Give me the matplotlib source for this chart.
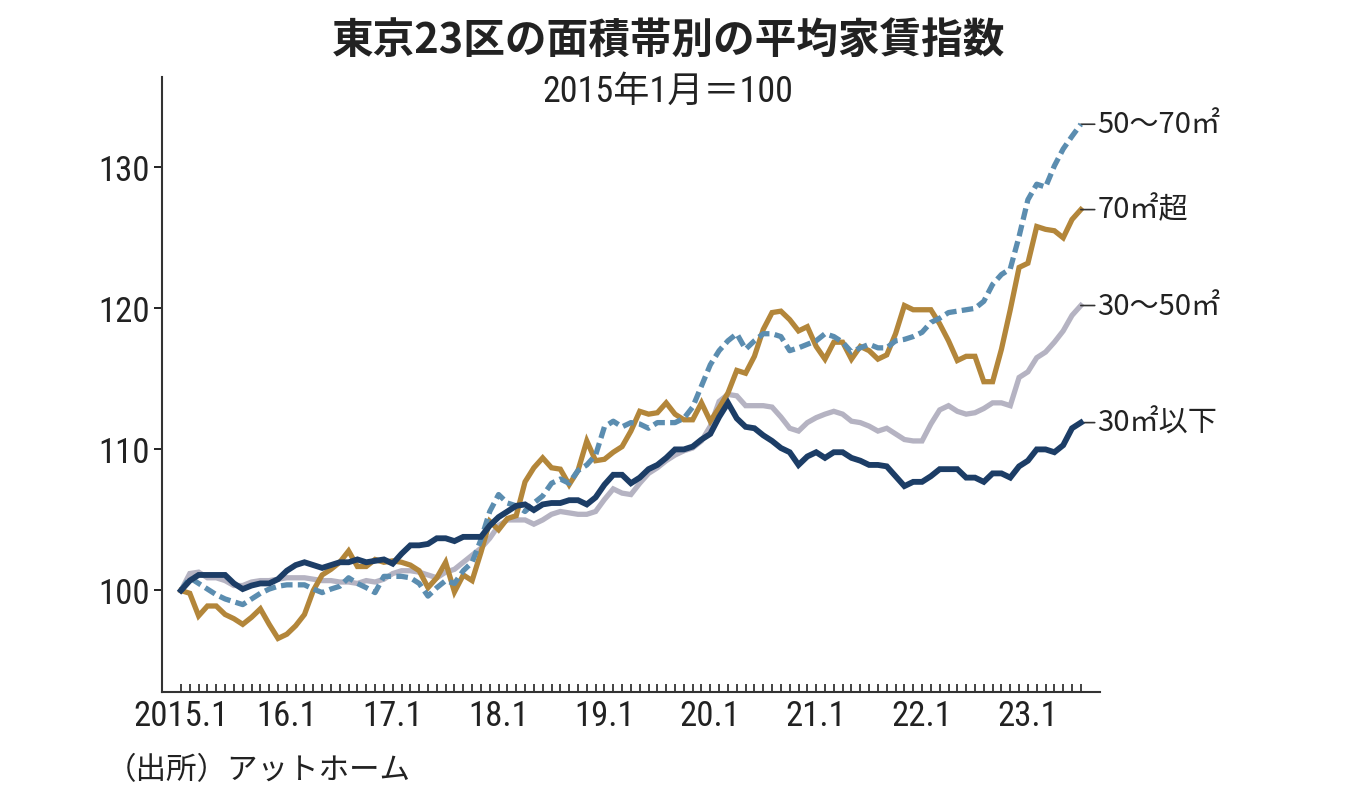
import numpy as np
import matplotlib
matplotlib.use('Agg')
import matplotlib.pyplot as plt
from matplotlib import font_manager

installed = {f.name for f in font_manager.fontManager.ttflist}
narrow = 'Noto Sans CJK JP'
for cand in ['Roboto Condensed', 'Barlow Condensed', 'IBM Plex Sans Condensed',
             'Fira Sans Condensed', 'Liberation Sans Narrow', 'PT Sans Narrow',
             'Archivo Narrow']:
    if cand in installed:
        narrow = cand
        break

plt.rcParams['font.family'] = [narrow, 'Noto Sans CJK JP', 'DejaVu Sans']
JP = ['Noto Sans CJK JP', 'DejaVu Sans']

# monthly index, 2015.1 = 100
under30 = [100.0, 100.7, 101.1, 101.1, 101.1, 101.1, 100.5, 100.1, 100.35, 100.5,
           100.5, 100.8, 101.4, 101.8, 102.0, 101.8, 101.6, 101.8, 102.0, 102.0,
           102.2, 102.0, 102.1, 102.2, 101.9, 102.6, 103.2, 103.2, 103.3, 103.7,
           103.7, 103.5, 103.8, 103.8, 103.8, 104.6, 105.2, 105.6, 106.0, 106.1,
           105.7, 106.1, 106.2, 106.2, 106.4, 106.4, 106.1, 106.6, 107.5, 108.2,
           108.2, 107.6, 108.0, 108.6, 108.9, 109.4, 110.0, 110.0, 110.2, 110.7,
           111.1, 112.3, 113.3, 112.2, 111.6, 111.5, 111.0, 110.6, 110.1, 109.8,
           108.9, 109.5, 109.8, 109.4, 109.8, 109.8, 109.4, 109.2, 108.9, 108.9,
           108.8, 108.1, 107.4, 107.7, 107.7, 108.1, 108.6, 108.6, 108.6, 108.0,
           108.0, 107.7, 108.3, 108.3, 108.0, 108.8, 109.2, 110.0, 110.0, 109.8,
           110.3, 111.5, 111.9]
s30_50 = [100.0, 101.2, 101.3, 100.9, 100.9, 100.7, 100.35, 100.35, 100.6, 100.7,
          100.7, 100.8, 100.9, 100.9, 100.9, 100.8, 100.7, 100.7, 100.6, 100.6,
          100.5, 100.7, 100.6, 100.8, 101.2, 101.4, 101.4, 101.3, 101.1, 100.9,
          101.3, 101.5, 102.0, 102.5, 103.0, 103.7, 104.6, 105.0, 105.0, 105.0,
          104.7, 105.0, 105.4, 105.6, 105.5, 105.4, 105.4, 105.6, 106.45, 107.2,
          106.9, 106.8, 107.6, 108.3, 108.7, 109.2, 109.6, 109.9, 110.1, 110.6,
          111.65, 113.4, 113.9, 113.8, 113.1, 113.1, 113.1, 113.0, 112.3, 111.5,
          111.3, 111.9, 112.25, 112.5, 112.7, 112.5, 112.0, 111.9, 111.65, 111.3,
          111.5, 111.1, 110.7, 110.6, 110.6, 111.8, 112.8, 113.1, 112.7, 112.5,
          112.6, 112.9, 113.3, 113.3, 113.1, 115.1, 115.5, 116.5, 116.9, 117.6,
          118.4, 119.5, 120.2]
s50_70 = [100.0, 100.9, 100.5, 100.1, 99.7, 99.4, 99.2, 99.0, 99.4, 99.8,
          100.1, 100.3, 100.4, 100.4, 100.4, 100.1, 99.85, 100.1, 100.3, 100.9,
          100.5, 100.2, 99.85, 101.0, 101.0, 101.0, 100.9, 100.5, 99.6, 100.2,
          100.7, 100.5, 101.4, 102.0, 103.6, 105.6, 106.8, 106.2, 106.0, 105.6,
          106.2, 106.7, 107.6, 107.9, 107.6, 108.5, 108.9, 109.6, 111.6, 112.0,
          111.6, 111.9, 111.8, 111.5, 111.9, 111.9, 111.9, 112.2, 113.0, 114.5,
          116.0, 117.0, 117.7, 118.2, 117.1, 117.7, 118.2, 118.2, 118.0, 117.0,
          117.2, 117.45, 117.7, 118.2, 118.0, 117.6, 116.9, 117.2, 117.45, 117.2,
          117.2, 117.7, 117.8, 118.0, 118.3, 119.0, 119.3, 119.7, 119.8, 119.9,
          120.0, 120.5, 121.7, 122.4, 122.8, 125.1, 127.7, 128.8, 128.6, 130.1,
          131.3, 132.2, 133.05]
over70 = [100.0, 99.8, 98.2, 98.9, 98.9, 98.3, 98.0, 97.6, 98.1, 98.7,
          97.6, 96.6, 96.9, 97.5, 98.3, 100.0, 101.1, 101.5, 102.0, 102.8,
          101.7, 101.7, 102.2, 102.0, 102.1, 102.0, 101.8, 101.4, 100.2, 100.9,
          102.0, 99.9, 101.1, 100.7, 102.7, 104.9, 104.3, 105.1, 105.3, 107.7,
          108.7, 109.4, 108.7, 108.6, 107.5, 108.5, 110.6, 109.2, 109.3, 109.8,
          110.2, 111.3, 112.7, 112.5, 112.6, 113.3, 112.5, 112.1, 112.1, 113.3,
          112.0, 112.95, 114.0, 115.6, 115.4, 116.6, 118.5, 119.7, 119.8, 119.2,
          118.4, 118.7, 117.3, 116.4, 117.6, 117.6, 116.4, 117.3, 117.0, 116.4,
          116.7, 118.2, 120.2, 119.9, 119.9, 119.9, 118.9, 117.7, 116.3, 116.6,
          116.6, 114.8, 114.8, 117.1, 119.9, 122.9, 123.2, 125.8, 125.6, 125.5,
          125.0, 126.3, 127.0]

year_labels = ['2015.1', '16.1', '17.1', '18.1', '19.1', '20.1', '21.1', '22.1', '23.1']
series_names = ['30㎡以下', '30～50㎡', '50～70㎡', '70㎡超']

months = np.arange(len(under30))

fig = plt.figure(figsize=(13.5, 8.04), dpi=100)
ax = fig.add_axes([0.12, 0.138, 0.695, 0.765])

ax.plot(months, s30_50, color='#b5b3c2', lw=3.8, solid_joinstyle='miter', zorder=2)
ax.plot(months, over70, color='#b3863a', lw=3.8, solid_joinstyle='miter', zorder=3)
ax.plot(months, s50_70, color='#5b8db0', lw=3.8, dashes=(2.2, 1.0), zorder=4)
ax.plot(months, under30, color='#1c3d66', lw=4.2, solid_joinstyle='miter', zorder=5)

# end labels with short leader lines
for vals, name in zip([under30, s30_50, s50_70, over70], series_names):
    ax.annotate(name, xy=(months[-1], vals[-1]), xytext=(12, 0),
                textcoords='offset points', va='center', ha='left',
                fontsize=21, family=JP, color='#222222', annotation_clip=False,
                arrowprops=dict(arrowstyle='-', color='#333333', lw=1.2,
                                shrinkA=0, shrinkB=0))

ax.set_xlim(-2.15, 104.2)
ax.set_ylim(92.8, 136.4)
ax.set_yticks([100, 110, 120, 130])
ax.tick_params(axis='y', direction='out', length=6, width=1.4, labelsize=25,
               colors='#222222', pad=3)
xlabels = [''] * len(months)
for i, lab in enumerate(year_labels):
    xlabels[i * 12] = lab
ax.set_xticks(months)
ax.set_xticklabels(xlabels)
ax.tick_params(axis='x', direction='in', length=6, width=1.2, labelsize=25,
               colors='#222222', pad=5)
for s in ['top', 'right']:
    ax.spines[s].set_visible(False)
for s in ['left', 'bottom']:
    ax.spines[s].set_linewidth(1.5)
    ax.spines[s].set_color('#333333')

fig.text(0.495, 0.948, '東京23区の面積帯別の平均家賃指数', ha='center', va='center',
         fontsize=30, fontweight='bold', family=JP, color='#222222')
fig.text(0.495, 0.886, '2015年1月＝100', ha='center', va='center', fontsize=26,
         color='#222222')
fig.text(0.078, 0.042, '（出所）アットホーム', ha='left', va='center', fontsize=22,
         family=JP, color='#222222')

fig.savefig('out.png', dpi=100)
